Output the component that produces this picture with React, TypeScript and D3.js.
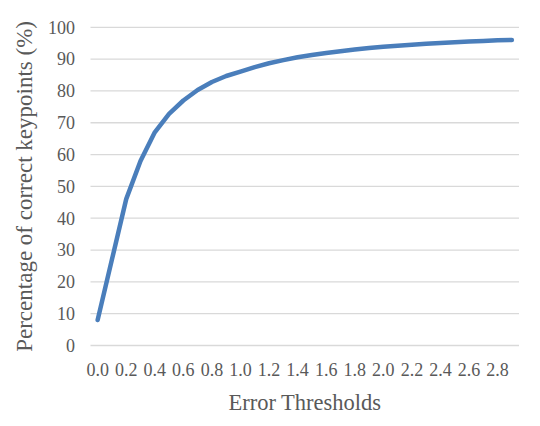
import React from "react";
import * as d3 from "d3";

const thresholds = [
  "0.0", "0.1", "0.2", "0.3", "0.4", "0.5", "0.6", "0.7", "0.8", "0.9",
  "1.0", "1.1", "1.2", "1.3", "1.4", "1.5", "1.6", "1.7", "1.8", "1.9",
  "2.0", "2.1", "2.2", "2.3", "2.4", "2.5", "2.6", "2.7", "2.8", "2.9",
];
const pck = [
  8, 27, 46, 58, 67, 72.8, 77, 80.3, 82.8, 84.7,
  86.1, 87.5, 88.7, 89.7, 90.6, 91.3, 91.9, 92.5, 93.0, 93.5,
  93.9, 94.2, 94.5, 94.8, 95.1, 95.3, 95.5, 95.7, 95.9, 96.0,
];
const yTicks = [0, 10, 20, 30, 40, 50, 60, 70, 80, 90, 100];
const xLabelEvery = 2;
const xTitle = "Error Thresholds";
const yTitle = "Percentage of correct keypoints (%)";

const W = 540;
const H = 426;
const left = 90.5;
const right = 519;
const top = 27.3;
const bottom = 345.5;

export default function App() {
  const x = d3.scaleBand<string>().domain(thresholds).range([left, right]).padding(0);
  const y = d3.scaleLinear().domain([0, 100]).range([bottom, top]);
  const cx = (d: string) => (x(d) as number) + x.bandwidth() / 2;
  const line = d3
    .line<number>()
    .x((_, i) => cx(thresholds[i]))
    .y((d) => y(d))
    .curve(d3.curveLinear);
  const font = "'Liberation Serif', 'Times New Roman', serif";
  const textColor = "#595959";
  return (
    <svg
      width={W}
      height={H}
      style={{ position: "absolute", left: 0, top: 0, background: "#fff" }}
      fontFamily={font}
    >
      <rect width={W} height={H} fill="#fff" />
      {yTicks.map((t) => (
        <g key={t}>
          <line x1={left} x2={right} y1={y(t)} y2={y(t)} stroke="#d9d9d9" strokeWidth={1.3} />
          <text
            x={75}
            y={y(t)}
            dy="0.35em"
            textAnchor="end"
            fontSize={18}
            fill={textColor}
          >
            {t}
          </text>
        </g>
      ))}
      {thresholds.map((d, i) =>
        i % xLabelEvery === 0 ? (
          <text key={d} x={cx(d)} y={376} textAnchor="middle" fontSize={18} fill={textColor}>
            {d}
          </text>
        ) : null
      )}
      <path
        d={line(pck) || ""}
        fill="none"
        stroke="#4a7ebb"
        strokeWidth={4.5}
        strokeLinejoin="round"
        strokeLinecap="round"
      />
      <text
        x={(left + right) / 2}
        y={410}
        textAnchor="middle"
        fontSize={22.5}
        fill={textColor}
      >
        {xTitle}
      </text>
      <text
        transform={`translate(32, ${(top + bottom) / 2}) rotate(-90)`}
        textAnchor="middle"
        fontSize={23}
        fill={textColor}
      >
        {yTitle}
      </text>
    </svg>
  );
}
